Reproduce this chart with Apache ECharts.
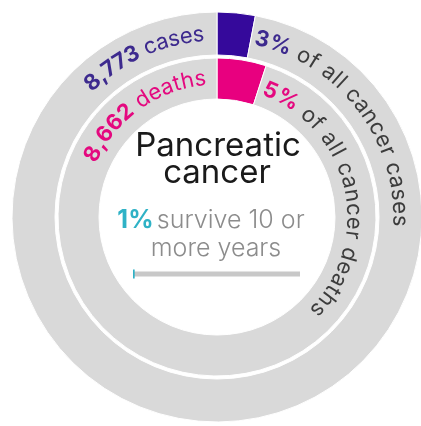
<!DOCTYPE html>
<html>
<head>
<meta charset="utf-8">
<script src="https://cdn.jsdelivr.net/npm/echarts@6/dist/echarts.min.js"></script>
<style>
  html, body { margin: 0; padding: 0; background: #fff; }
  #chart { width: 421px; height: 426px; }
</style>
</head>
<body>
<div id="chart"></div>
<script>
// Pancreatic cancer: share of all cancer cases / deaths, and 10-year survival
const ringNames = ['cases', 'deaths'];
const counts = [8773, 8662];          // new cases, deaths
const shares = [3, 5];                // % of all cancer cases, % of all cancer deaths
const survival10yr = 1;               // % surviving 10 or more years
const siteName = ['Pancreatic', 'cancer'];

const FONT = 'Inter, Lato, sans-serif';
const CX = 217, CY = 217;
const PURPLE = '#35099b', PURPLE_TXT = '#3d2a8e';
const PINK = '#e8007f', PINK_TXT = '#e4087f';
const RING_GREY = '#d9d9d9';
const TEAL = '#2fb2c6';

const chart = echarts.init(document.getElementById('chart'), null, { renderer: 'canvas' });

const ctx = document.createElement('canvas').getContext('2d');
function fontStr(size, weight) { return weight + ' ' + size + 'px ' + FONT; }

// Lays out text segments along a circle, reading clockwise, letter tops facing outward.
function arcText(segments, r, startDeg, endDeg, size) {
  const chars = [];
  segments.forEach(seg => {
    for (const ch of seg.text) {
      ctx.font = fontStr(size, seg.weight);
      chars.push({ ch, w: ctx.measureText(ch).width, weight: seg.weight, color: seg.color });
    }
  });
  const total = chars.reduce((s, c) => s + c.w, 0);
  const arcLen = (endDeg - startDeg) * Math.PI / 180 * r;
  const gap = (arcLen - total) / Math.max(1, chars.length - 1);
  const out = [];
  let pos = 0;
  chars.forEach(c => {
    const theta = startDeg * Math.PI / 180 + (pos + c.w / 2) / r;
    pos += c.w + gap;
    if (c.ch === ' ') return;
    out.push({
      type: 'text',
      x: CX + r * Math.sin(theta),
      y: CY - r * Math.cos(theta),
      rotation: -theta,
      z: 100,
      silent: true,
      style: {
        text: c.ch, fill: c.color, font: fontStr(size, c.weight),
        align: 'center', verticalAlign: 'middle'
      }
    });
  });
  return out;
}

const fmt = n => n.toLocaleString('en-GB');

const graphics = [].concat(
  arcText([{ text: fmt(counts[0]), weight: 700, color: PURPLE_TXT },
           { text: ' ' + ringNames[0], weight: 400, color: PURPLE_TXT }], 183, -45, -4, 22),
  arcText([{ text: fmt(counts[1]), weight: 700, color: PINK_TXT },
           { text: ' ' + ringNames[1], weight: 400, color: PINK_TXT }], 139, -66, -4.5, 22),
  arcText([{ text: shares[0] + '%', weight: 700, color: PURPLE_TXT },
           { text: ' of all cancer ' + ringNames[0], weight: 400, color: '#3c3c3c' }], 183, 12, 93, 22),
  arcText([{ text: shares[1] + '%', weight: 700, color: PINK_TXT },
           { text: ' of all cancer ' + ringNames[1], weight: 400, color: '#3c3c3c' }], 137, 20, 135, 22),
  [
    { type: 'text', x: 218, y: 146, z: 100, silent: true,
      style: { text: siteName[0], font: fontStr(33, 400), fill: '#1a1a1a', align: 'center', verticalAlign: 'middle' } },
    { type: 'text', x: 217, y: 173, z: 100, silent: true,
      style: { text: siteName[1], font: fontStr(33, 400), fill: '#1a1a1a', align: 'center', verticalAlign: 'middle' } },
    { type: 'text', x: 211, y: 220, z: 100, silent: true,
      style: {
        text: '{p|' + survival10yr + '%} {t|survive 10 or}', align: 'center', verticalAlign: 'middle',
        rich: {
          p: { font: fontStr(25, 700), fill: TEAL },
          t: { font: fontStr(25, 300), fill: '#8c8c8c' }
        }
      } },
    { type: 'text', x: 216, y: 248, z: 100, silent: true,
      style: { text: 'more years', font: fontStr(25, 300), fill: '#8c8c8c', align: 'center', verticalAlign: 'middle' } }
  ]
);

chart.setOption({
  animation: false,
  backgroundColor: '#ffffff',
  grid: { left: 133, width: 167, top: 268, height: 12 },
  xAxis: { type: 'value', min: 0, max: 100, show: false },
  yAxis: [
    { type: 'category', data: ['survival'], show: false },
    { type: 'category', data: ['survival'], show: false }
  ],
  series: [
    {
      type: 'pie', center: [CX, CY], radius: [162, 205], startAngle: 90, clockwise: true,
      silent: true, label: { show: false }, labelLine: { show: false },
      itemStyle: { borderColor: '#fff', borderWidth: 1 },
      data: [
        { name: 'pancreatic cases', value: shares[0], itemStyle: { color: PURPLE } },
        { name: 'other cases', value: 100 - shares[0], itemStyle: { color: RING_GREY } }
      ]
    },
    {
      type: 'pie', center: [CX, CY], radius: [118, 159], startAngle: 90, clockwise: true,
      silent: true, label: { show: false }, labelLine: { show: false },
      itemStyle: { borderColor: '#fff', borderWidth: 1 },
      data: [
        { name: 'pancreatic deaths', value: shares[1], itemStyle: { color: PINK } },
        { name: 'other deaths', value: 100 - shares[1], itemStyle: { color: RING_GREY } }
      ]
    },
    {
      type: 'bar', yAxisIndex: 0, data: [100], barWidth: 5, silent: true,
      itemStyle: { color: '#c8c8c8' }
    },
    {
      type: 'bar', yAxisIndex: 1, data: [survival10yr], barWidth: 9, silent: true,
      itemStyle: { color: TEAL }
    }
  ],
  graphic: { elements: graphics }
});
</script>
</body>
</html>
